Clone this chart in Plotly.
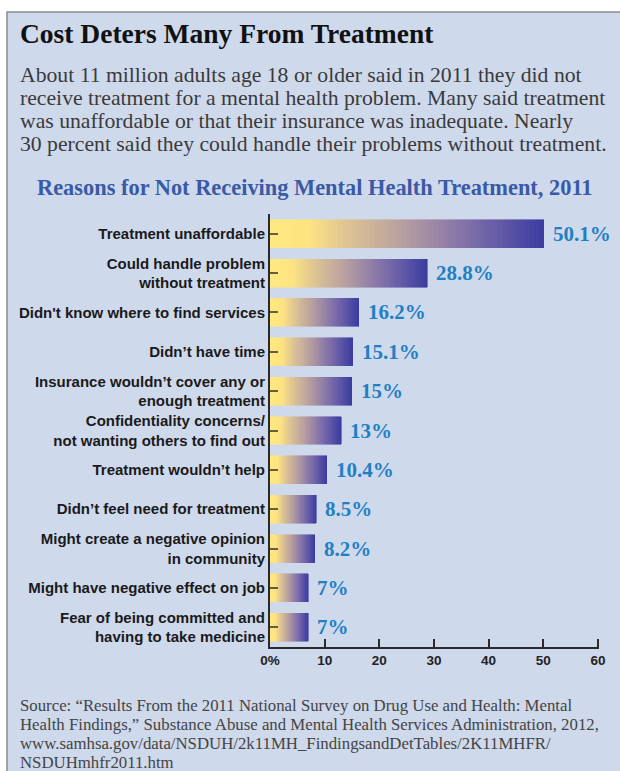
import plotly.graph_objects as go

categories = [
    "Treatment unaffordable",
    "Could handle problem<br>without treatment",
    "Didn't know where to find services",
    "Didn’t have time",
    "Insurance wouldn’t cover any or<br>enough treatment",
    "Confidentiality concerns/<br>not wanting others to find out",
    "Treatment wouldn’t help",
    "Didn’t feel need for treatment",
    "Might create a negative opinion<br>in community",
    "Might have negative effect on job",
    "Fear of being committed and<br>having to take medicine",
]
values = [50.1, 28.8, 16.2, 15.1, 15, 13, 10.4, 8.5, 8.2, 7, 7]
value_labels = ["50.1%", "28.8%", "16.2%", "15.1%", "15%", "13%", "10.4%", "8.5%", "8.2%", "7%", "7%"]
x_tickvals = [0, 10, 20, 30, 40, 50, 60]
x_ticktext = ["0%", "10", "20", "30", "40", "50", "60"]

title = "Cost Deters Many From Treatment"
subtitle_lines = [
    "About 11 million adults age 18 or older said in 2011 they did not",
    "receive treatment for a mental health problem. Many said treatment",
    "was unaffordable or that their insurance was inadequate. Nearly",
    "30 percent said they could handle their problems without treatment.",
]
chart_title = "Reasons for Not Receiving Mental Health Treatment, 2011"
source_lines = [
    "Source: “Results From the 2011 National Survey on Drug Use and Health: Mental",
    "Health Findings,” Substance Abuse and Mental Health Services Administration, 2012,",
    "www.samhsa.gov/data/NSDUH/2k11MH_FindingsandDetTables/2K11MHFR/",
    "NSDUHmhfr2011.htm",
]

# gradient stops (position along each bar -> colour)
stops = [
    (0.00, (255, 232, 130)),
    (0.14, (254, 228, 128)),
    (0.30, (218, 192, 150)),
    (0.48, (184, 160, 160)),
    (0.66, (142, 124, 168)),
    (0.82, (104, 94, 168)),
    (1.00, (60, 60, 160)),
]


def color_at(f):
    for (p0, c0), (p1, c1) in zip(stops[:-1], stops[1:]):
        if p0 <= f <= p1:
            t = (f - p0) / (p1 - p0) if p1 > p0 else 0
            c = [round(a + (b - a) * t) for a, b in zip(c0, c1)]
            return f"rgb({c[0]},{c[1]},{c[2]})"
    c = stops[-1][1]
    return f"rgb({c[0]},{c[1]},{c[2]})"


W, H = 620, 771
ML, MR, MT, MB = 270, 21, 214, 124
PW, PH = W - ML - MR, H - MT - MB


def px(x):
    return (x - ML) / PW


def py(y):
    return (H - MB - y) / PH


fig = go.Figure()
N = 60
for k in range(N):
    col = color_at((k + 0.5) / N)
    fig.add_trace(go.Bar(
        y=categories,
        x=[v / N for v in values],
        orientation="h",
        marker=dict(color=col, line=dict(width=0.6, color=col)),
        hoverinfo="skip",
        showlegend=False,
    ))

annotations = []
for cat, v, lab in zip(categories, values, value_labels):
    annotations.append(dict(
        x=v, y=cat, xref="x", yref="y", text=lab, showarrow=False,
        xanchor="left", yanchor="middle", xshift=7,
        font=dict(family="Liberation Serif", size=21, color="#1f80c4", weight="bold"),
    ))

annotations.append(dict(
    x=px(18), y=py(33), xref="paper", yref="paper", text=f"<b>{title}</b>",
    showarrow=False, xanchor="left", yanchor="middle",
    font=dict(family="Liberation Serif", size=27.5, color="#111111"),
))
for line, yy in zip(subtitle_lines, [75, 98, 121, 144]):
    annotations.append(dict(
        x=px(18), y=py(yy), xref="paper", yref="paper", text=line,
        showarrow=False, xanchor="left", yanchor="middle",
        font=dict(family="Liberation Serif", size=21.7, color="#3a3a3a"),
    ))
annotations.append(dict(
    x=px(315), y=py(188), xref="paper", yref="paper", text=f"<b>{chart_title}</b>",
    showarrow=False, xanchor="center", yanchor="middle",
    font=dict(family="Liberation Serif", size=22.4, color="#3a5aa6"),
))
for line, yy in zip(source_lines, [705, 724, 743, 762]):
    annotations.append(dict(
        x=px(18), y=py(yy), xref="paper", yref="paper", text=line,
        showarrow=False, xanchor="left", yanchor="middle",
        font=dict(family="Liberation Serif", size=16.8, color="#444444"),
    ))

shapes = [
    dict(type="rect", xref="paper", yref="paper",
         x0=px(7), x1=px(640), y0=py(12), y1=py(800),
         fillcolor="#cfd9ec", line=dict(color="#8c8c8c", width=1.5), layer="below"),
]

fig.update_layout(
    width=W, height=H,
    margin=dict(l=ML, r=MR, t=MT, b=MB),
    paper_bgcolor="white",
    plot_bgcolor="rgba(0,0,0,0)",
    barmode="stack",
    bargap=0.29,
    annotations=annotations,
    shapes=shapes,
    font=dict(family="Liberation Sans", color="#1a1a1a"),
    xaxis=dict(
        range=[0, 60.2], tickvals=x_tickvals, ticktext=x_ticktext,
        showgrid=False, zeroline=False, showline=True, linecolor="#2a2a2a", linewidth=2,
        ticks="inside", ticklen=8, tickwidth=2, tickcolor="#2a2a2a",
        tickfont=dict(family="Liberation Sans", size=13.5, color="#222222", weight="bold"),
        fixedrange=True,
    ),
    yaxis=dict(
        categoryorder="array", categoryarray=categories, autorange="reversed",
        showgrid=False, zeroline=False, showline=True, linecolor="#2a2a2a", linewidth=2,
        ticks="inside", ticklen=8, tickwidth=2, tickcolor="rgba(50,50,40,0.75)",
        tickfont=dict(family="Liberation Sans", size=15, color="#1a1a1a", weight="bold"),
        fixedrange=True,
    ),
)

fig.write_html("out.html")
